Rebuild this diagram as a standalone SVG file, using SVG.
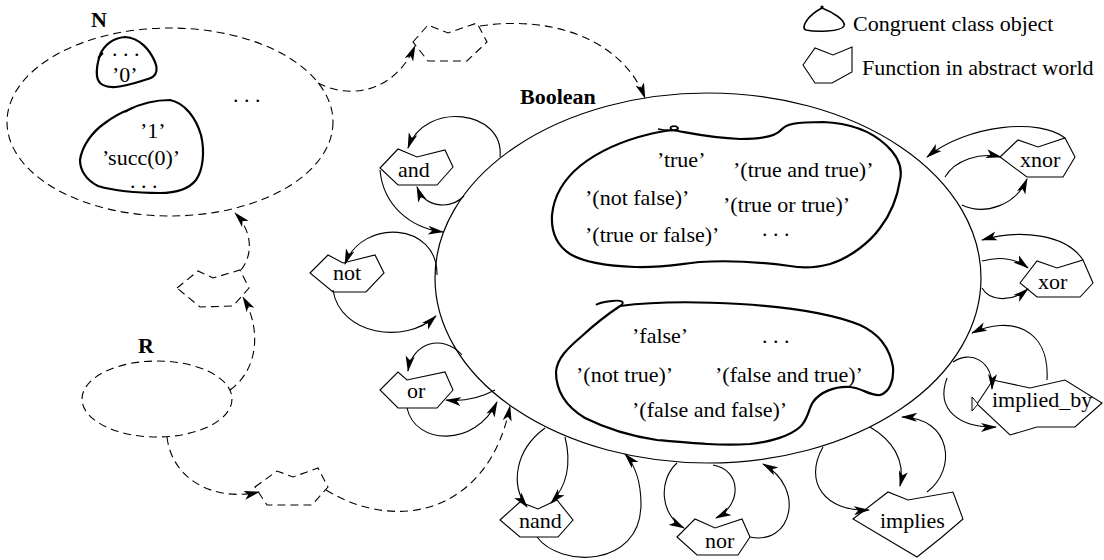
<svg xmlns="http://www.w3.org/2000/svg" width="1104" height="560" viewBox="0 0 1104 560" font-family="'Liberation Serif', 'Times New Roman', serif">
  <style>
    text { font-family: "Liberation Serif", "Times New Roman", serif; font-size: 22px; fill: #000; }
    .b { font-weight: bold; }
    .set { fill: none; stroke: #000; stroke-width: 1.2; }
    .dset { fill: none; stroke: #000; stroke-width: 1.1; stroke-dasharray: 8 5; }
    .cls { fill: none; stroke: #000; stroke-width: 2.2; stroke-linejoin: round; }
    .fn { fill: #fff; stroke: #000; stroke-width: 1.1; }
    .dfn { fill: none; stroke: #000; stroke-width: 1.1; stroke-dasharray: 8 5; }
    .arc { fill: none; stroke: #000; stroke-width: 1.1; marker-end: url(#ah); }
    .darc { fill: none; stroke: #000; stroke-width: 1.1; stroke-dasharray: 8 5; marker-end: url(#ah); }
  </style>
  <defs>
    <marker id="ah" markerWidth="16" markerHeight="10" refX="15" refY="5" orient="auto" markerUnits="userSpaceOnUse">
      <path d="M0,0.5 L16,5 L0,9.5 L4,5 Z" fill="#000" stroke="none"/>
    </marker>
  </defs>

  <rect width="1104" height="560" fill="#fff"/>

  <!-- legend -->
  <g id="legend">
    <path class="cls" style="stroke-width:1.6" d="M822 8 C832 12 846 20 844 26 C841 32 815 32 806 30 C800 28 808 15 822 8 Z"/>
    <circle cx="822" cy="7" r="1.6" fill="#000"/>
    <text x="853" y="31">Congruent class object</text>
    <polygon class="fn" points="803,65 815,48 833,55 852,47 852,72 832,83 815,83"/>
    <text x="862" y="75">Function in abstract world</text>
  </g>

  <!-- set N with its classes -->
  <g id="set-n">
    <ellipse class="dset" cx="170" cy="122" rx="163" ry="94"/>
    <text class="b" x="91" y="27">N</text>
    <path class="cls" d="M100 55 C104 45 113 38 125 37 C140 38 150 50 155 62 C159 72 155 77 148 79 C138 82 128 86 116 87 C105 88 98 84 97 76 C96 68 98 61 100 55"/>
    <path class="cls" style="stroke-width:1.8" d="M98 58 L103 53"/>
    <text x="112" y="56">. . .</text>
    <text x="112" y="82">’0’</text>
    <path class="cls" d="M128 110 C140 104 155 100 170 100 C185 103 196 118 201 135 C205 152 203 170 196 180 C188 190 175 193 160 193 C140 193 115 191 98 186 C86 180 80 170 80 160 C82 146 92 132 105 123 C113 117 120 113 128 110"/>
    <path class="cls" style="stroke-width:1.8" d="M125 112 L132 108"/>
    <text x="140" y="138">’1’</text>
    <text x="102" y="165">’succ(0)’</text>
    <text x="130" y="188" font-size="20">. . .</text>
    <text x="233" y="102">. . .</text>
  </g>

  <!-- set R -->
  <g id="set-r">
    <ellipse class="dset" cx="157" cy="399" rx="75" ry="38"/>
    <text class="b" x="138" y="353">R</text>
  </g>

  <!-- abstract functions between the sets (dashed) -->
  <g id="fn-n-to-bool">
    <polygon class="dfn" points="413,42 428,25 448,33 477,23 487,42 467,61 428,61"/>
  </g>
  <g id="fn-r-to-n">
    <polygon class="dfn" points="177,288 198,271 213,278 240,270 249,288 233,306 200,307"/>
  </g>
  <g id="fn-r-to-bool">
    <polygon class="dfn" points="255,487 277,471 293,477 318,468 328,487 312,505 267,505"/>
  </g>

  <!-- set Boolean with its two classes -->
  <g id="boolean">
    <ellipse class="set" cx="708" cy="278" rx="273" ry="185"/>
    <text class="b" x="520" y="104">Boolean</text>
  </g>
  <g id="class-true">
    <path class="cls" d="M672 130 C690 133 710 138 740 139 C760 139 775 137 781 130 C786 124 795 122 823 122 C850 123 872 132 886 145 C897 155 903 167 900 180 C897 200 890 215 880 228 C870 242 850 258 830 264 C815 268 800 268 790 266 C760 262 730 260 700 262 C680 264 660 268 635 267 C610 266 585 263 570 254 C556 245 551 232 552 215 C554 195 563 180 580 166 C600 150 625 140 650 134 C658 132 665 131 672 130"/>
    <path class="cls" style="stroke-width:1.8" d="M672 130 C667 126 676 125 678 128 C679 131 666 131 658 129"/>
    <text x="657" y="167">’true’</text>
    <text x="733" y="177">’(true and true)’</text>
    <text x="585" y="205">’(not false)’</text>
    <text x="723" y="212">’(true or true)’</text>
    <text x="585" y="242">’(true or false)’</text>
    <text x="762" y="236" font-size="20">. . .</text>
  </g>
  <g id="class-false">
    <path class="cls" d="M620 306 C650 302 690 301 740 304 C790 307 830 313 860 325 C880 334 890 350 893 367 C894 380 890 392 880 395 C870 396 862 388 850 387 C835 386 820 392 813 402 C808 410 808 420 800 427 C790 436 770 442 750 444 C720 446 690 443 657 440 C630 436 605 428 585 418 C565 406 556 390 556 372 C557 358 568 348 582 336 C595 324 608 314 620 306"/>
    <path class="cls" style="stroke-width:1.8" d="M620 306 C626 302 622 300 612 301 C603 302 598 303 596 305"/>
    <text x="632" y="343">’false’</text>
    <text x="762" y="343">. . .</text>
    <text x="576" y="382">’(not true)’</text>
    <text x="715" y="382">’(false and true)’</text>
    <text x="632" y="417">’(false and false)’</text>
  </g>

  <!-- concrete boolean functions -->
  <g id="fn-and">
    <polygon class="fn" points="380,168 398,149 417,157 445,150 453,167 437,185 398,185"/>
    <text x="398" y="177">and</text>
  </g>
  <g id="fn-not">
    <polygon class="fn" points="310,273 328,255 343,263 375,255 384,273 366,292 333,292"/>
    <text x="333" y="280">not</text>
  </g>
  <g id="fn-or">
    <polygon class="fn" points="380,390 398,372 407,380 445,372 453,390 437,408 398,408"/>
    <text x="407" y="398">or</text>
  </g>
  <g id="fn-nand">
    <polygon class="fn" points="500,520 520,502 538,509 557,500 573,520 558,537 520,537"/>
    <text x="519" y="528">nand</text>
  </g>
  <g id="fn-nor">
    <polygon class="fn" points="677,537 695,519 715,528 742,519 750,537 738,555 697,555"/>
    <text x="705" y="548">nor</text>
  </g>
  <g id="fn-implies">
    <polygon class="fn" points="853,519 888,492 908,500 953,492 963,519 942,537 917,557"/>
    <text x="880" y="528">implies</text>
  </g>
  <g id="fn-implied_by">
    <polygon class="fn" points="977,404 993,380 1030,388 1065,380 1102,403 1075,427 1037,427 1010,435"/>
    <path d="M972 397 L978 404 L972 411 Z" fill="#fff" stroke="#000" stroke-width="1"/>
    <text x="992" y="407">implied_by</text>
  </g>
  <g id="fn-xor">
    <polygon class="fn" points="1020,283 1037,261 1057,268 1083,260 1093,283 1080,297 1037,297"/>
    <text x="1038" y="289">xor</text>
  </g>
  <g id="fn-xnor">
    <polygon class="fn" points="1000,157 1018,140 1038,147 1065,138 1075,157 1063,177 1027,177"/>
    <text x="1020" y="167">xnor</text>
  </g>

  <!-- connectors -->
  <g id="connectors">
    <!-- mappings between sets -->
    <path class="darc" d="M318 83 C350 100 395 92 415 46"/>
    <path class="darc" d="M480 26 C560 14 625 45 645 98"/>
    <path class="darc" d="M230 390 C258 370 262 330 243 297"/>
    <path class="darc" d="M241 270 C253 255 253 232 235 213"/>
    <path class="darc" d="M167 437 C172 480 215 502 259 492"/>
    <path class="darc" d="M326 490 C400 535 490 510 510 406"/>

    <!-- and -->
    <path class="arc" d="M500 157 C505 110 425 100 408 148"/>
    <path class="arc" d="M380 170 C383 205 410 228 443 232"/>
    <path class="arc" d="M464 196 C450 210 425 208 417 187"/>
    <!-- not -->
    <path class="arc" d="M437 275 C438 222 362 218 345 264"/>
    <path class="arc" d="M333 290 C340 335 405 345 436 316"/>
    <!-- or -->
    <path class="arc" d="M462 355 C442 333 412 343 408 371"/>
    <path class="arc" d="M407 408 C415 445 475 448 497 402"/>
    <path class="arc" d="M495 390 C480 398 465 402 446 400"/>
    <!-- nand -->
    <path class="arc" d="M545 428 C515 450 510 485 527 507"/>
    <path class="arc" d="M565 437 C572 465 566 487 551 503"/>
    <path class="arc" d="M537 537 C560 568 640 568 641 505 C641 482 636 466 625 454"/>
    <!-- nor -->
    <path class="arc" d="M677 463 C658 480 660 515 684 528"/>
    <path class="arc" d="M713 465 C742 470 742 505 716 518"/>
    <path class="arc" d="M750 537 C792 546 806 488 763 464"/>
    <!-- implies -->
    <path class="arc" d="M870 427 C892 440 906 460 900 486"/>
    <path class="arc" d="M823 447 C803 482 825 512 869 510"/>
    <path class="arc" d="M927 492 C957 470 952 418 902 417"/>
    <!-- implied_by -->
    <path class="arc" d="M953 362 C970 350 993 360 992 389"/>
    <path class="arc" d="M947 378 C935 410 960 428 996 427"/>
    <path class="arc" d="M1047 380 C1050 328 1010 315 972 333"/>
    <!-- xor -->
    <path class="arc" d="M982 261 C1000 256 1015 258 1028 268"/>
    <path class="arc" d="M982 288 C990 302 1012 302 1028 289"/>
    <path class="arc" d="M1083 260 C1066 234 1020 229 982 240"/>
    <!-- xnor -->
    <path class="arc" d="M1065 138 C1040 118 968 124 927 157"/>
    <path class="arc" d="M945 177 C955 160 980 152 1001 157"/>
    <path class="arc" d="M962 205 C985 216 1016 205 1027 179"/>
  </g>
</svg>
